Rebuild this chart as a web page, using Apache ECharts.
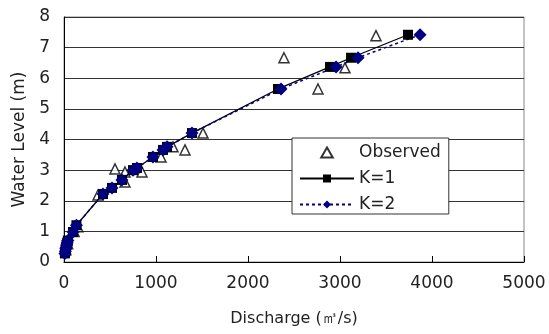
<!DOCTYPE html>
<html><head><meta charset="utf-8">
<script src="https://cdn.jsdelivr.net/npm/echarts@6/dist/echarts.min.js"></script>
<style>html,body{margin:0;padding:0;background:#fff}#c{width:549px;height:334px}</style>
</head><body><div id="c"></div>
<script>
const obsX = [20, 40, 110, 150, 370, 554, 663, 663, 848, 1054, 1185, 1315, 1511, 2391, 2761, 3054, 3391];
const obsY = [0.40, 0.60, 1.00, 1.15, 2.19, 3.04, 2.94, 2.61, 2.94, 3.43, 3.76, 3.66, 4.21, 6.67, 5.65, 6.34, 7.39];
const k1X = [10, 15, 20, 28, 35, 42, 98, 135, 424, 522, 630, 750, 793, 967, 1076, 1120, 1391, 2326, 2891, 3120, 3739];
const k1Y = [0.28, 0.35, 0.45, 0.55, 0.63, 0.70, 0.98, 1.20, 2.22, 2.42, 2.68, 3.00, 3.07, 3.43, 3.66, 3.76, 4.21, 5.65, 6.37, 6.67, 7.42];
const k2X = [10, 15, 20, 28, 35, 42, 98, 135, 424, 522, 630, 750, 793, 967, 1076, 1120, 1391, 2359, 2957, 3196, 3870];
const k2Y = [0.28, 0.35, 0.45, 0.55, 0.63, 0.70, 0.98, 1.20, 2.22, 2.42, 2.68, 3.00, 3.07, 3.43, 3.66, 3.76, 4.21, 5.65, 6.37, 6.67, 7.42];
const zip = (a, b) => a.map((v, i) => [v, b[i]]);
const FONT = 'DejaVu Sans';
const chart = echarts.init(document.getElementById('c'));
chart.setOption({
  animation: false,
  backgroundColor: '#fff',
  textStyle: { fontFamily: FONT },
  grid: { left: 64, right: 25, top: 17, bottom: 72, show: true, borderColor: '#888', borderWidth: 1 },
  xAxis: {
    type: 'value', min: 0, max: 5000, interval: 1000,
    name: 'Discharge (㎥/s)', nameLocation: 'middle', nameGap: 49,
    nameTextStyle: { fontFamily: FONT, fontSize: 16, color: '#222' },
    axisLine: { show: true, lineStyle: { color: '#000', width: 1 } },
    axisTick: { show: true, inside: true, length: 6, lineStyle: { color: '#000' } },
    axisLabel: { fontFamily: FONT, fontSize: 17, color: '#222', margin: 13, formatter: v => String(v) },
    splitLine: { show: false }
  },
  yAxis: {
    type: 'value', min: 0, max: 8, interval: 1,
    name: 'Water Level (m)', nameLocation: 'middle', nameGap: 35,
    nameTextStyle: { fontFamily: FONT, fontSize: 17, color: '#222' },
    axisLine: { show: true, lineStyle: { color: '#000', width: 1 } },
    axisTick: { show: false },
    axisLabel: { fontFamily: FONT, fontSize: 17, color: '#222', margin: 14 },
    splitLine: { show: true, lineStyle: { color: '#333', width: 1 } }
  },
  legend: {
    orient: 'vertical', left: 292, top: 138,
    backgroundColor: '#fff', borderColor: '#333', borderWidth: 1,
    padding: [6, 8, 1, 7], itemWidth: 54, itemHeight: 10, itemGap: 9,
    symbolKeepAspect: true,
    textStyle: { fontFamily: FONT, fontSize: 17, color: '#222' },
    data: [
      { name: 'Observed', icon: 'path://M5,0L10,8.66L0,8.66Z', itemStyle: { color: '#fff', borderColor: '#000', borderWidth: 2 } },
      'K=1', 'K=2'
    ]
  },
  series: [
    { name: 'Observed', type: 'scatter', data: zip(obsX, obsY), symbol: 'triangle', symbolSize: 10,
      itemStyle: { color: '#fff', borderColor: '#000', borderWidth: 1.5 } },
    { name: 'K=1', type: 'line', data: zip(k1X, k1Y), symbol: 'rect', symbolSize: 10,
      lineStyle: { color: '#000', width: 1.3 }, itemStyle: { color: '#000' } },
    { name: 'K=2', type: 'line', data: zip(k2X, k2Y), symbol: 'diamond', symbolSize: 13,
      lineStyle: { color: '#000080', width: 1.5, type: [3, 3] }, itemStyle: { color: '#000080' } }
  ]
});
</script></body></html>
